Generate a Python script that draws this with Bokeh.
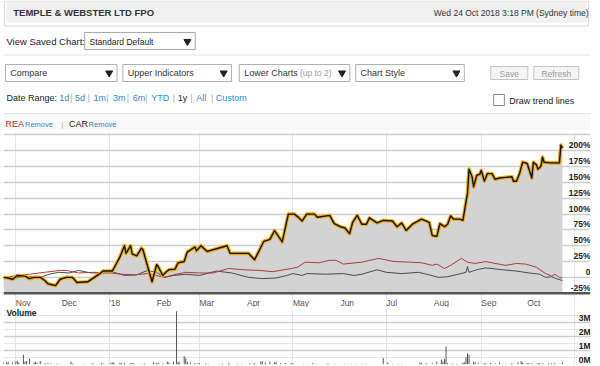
import pandas as pd
from datetime import datetime
from bokeh.plotting import figure
from bokeh.layouts import column
from bokeh.models import (ColumnDataSource, Range1d, FixedTicker, Grid, LabelSet, Label, Span)
from bokeh.core.properties import value
from bokeh.embed import file_html
from bokeh.resources import INLINE

FONT = "Liberation Sans"

# ---------------- data ----------------
tpw_dates = ["2017-10-24","2017-10-27","2017-10-30","2017-11-02","2017-11-07","2017-11-10","2017-11-13",
             "2017-11-17","2017-11-20","2017-11-22","2017-11-27","2017-11-30","2017-12-04","2017-12-08",
             "2017-12-11","2017-12-18","2017-12-26","2017-12-28","2018-01-03","2018-01-04","2018-01-08",
             "2018-01-11","2018-01-12","2018-01-15","2018-01-16","2018-01-19","2018-01-22","2018-01-23",
             "2018-01-29","2018-02-01","2018-02-02","2018-02-05","2018-02-07","2018-02-09","2018-02-13",
             "2018-02-15","2018-02-19","2018-02-21","2018-02-26","2018-02-27","2018-03-02","2018-03-06",
             "2018-03-19","2018-03-21","2018-04-02","2018-04-06","2018-04-12","2018-04-16","2018-04-19",
             "2018-04-24","2018-04-28","2018-05-02","2018-05-04","2018-05-07","2018-05-10","2018-05-15",
             "2018-05-17","2018-05-25","2018-05-28","2018-06-01","2018-06-04","2018-06-07","2018-06-09",
             "2018-06-12","2018-06-15","2018-06-18","2018-06-20","2018-06-25","2018-06-29","2018-07-05",
             "2018-07-08","2018-07-11","2018-07-14","2018-07-18","2018-07-24","2018-07-29","2018-07-31",
             "2018-08-03","2018-08-05","2018-08-08","2018-08-10","2018-08-12","2018-08-14","2018-08-18",
             "2018-08-20","2018-08-23","2018-08-24","2018-08-26","2018-08-27","2018-08-29","2018-08-31",
             "2018-09-01","2018-09-03","2018-09-05","2018-09-08","2018-09-10","2018-09-13","2018-09-17",
             "2018-09-21","2018-09-22","2018-09-24","2018-09-26","2018-09-28","2018-10-01","2018-10-04",
             "2018-10-05","2018-10-07","2018-10-08","2018-10-10","2018-10-11","2018-10-12","2018-10-16",
             "2018-10-22","2018-10-23","2018-10-24"]
tpw_pct = [0,-1,-3,3,2,-2,0,
           0,-5,-10,-13,-3,0,0,
           -8,-7,6,10,10,14,32,
           50,38,50,37,34,46,44,
           -7,20,17,3,8,12,13,
           23,25,40,48,42,50,41,
           50,38,38,28,57,60,74,
           56,100,100,96,89,100,100,
           95,98,85,80,78,69,87,
           98,84,84,94,86,90,89,
           80,86,74,84,92,87,66,
           65,85,80,84,97,92,92,
           90,133,171,159,143,161,163,
           169,152,164,164,155,157,158,
           159,152,152,164,182,180,157,
           182,178,171,176,190,182,181,
           181,209,204]

rea_dates = ["2017-10-24","2017-11-10","2017-11-20","2017-11-30","2017-12-04","2017-12-12","2017-12-22",
             "2018-01-02","2018-01-09","2018-01-18","2018-01-26","2018-02-01","2018-02-06","2018-02-12",
             "2018-02-20","2018-03-01","2018-03-10","2018-03-20","2018-03-30","2018-04-09","2018-04-18",
             "2018-04-25","2018-04-30","2018-05-04","2018-05-09","2018-05-18","2018-05-25","2018-05-29",
             "2018-06-03","2018-06-15","2018-06-26","2018-07-06","2018-07-17","2018-07-24","2018-07-31",
             "2018-08-03","2018-08-08","2018-08-12","2018-08-19","2018-08-23","2018-08-28","2018-09-04",
             "2018-09-10","2018-09-17","2018-09-24","2018-09-30","2018-10-07","2018-10-13","2018-10-17",
             "2018-10-19","2018-10-22","2018-10-24"]
rea_pct = [0,5,8,11,11,7,8,
           7,5,4,6,3,0,4,
           8,7,7,14,12,11,9,
           12,14,16,24,23,27,27,
           21,24,30,25,24,23,19,
           21,14,19,30,24,22,25,
           22,19,22,21,16,6,2,
           5,0,-1]

car_dates = ["2017-10-24","2017-10-30","2017-11-07","2017-11-17","2017-11-23","2017-11-29","2017-12-06",
             "2017-12-12","2017-12-20","2017-12-28","2018-01-04","2018-01-11","2018-01-19","2018-01-26",
             "2018-02-01","2018-02-06","2018-02-12","2018-02-20","2018-03-01","2018-03-12","2018-03-22",
             "2018-04-02","2018-04-11","2018-04-20","2018-04-27","2018-05-01","2018-05-07","2018-05-10",
             "2018-05-23","2018-06-03","2018-06-10","2018-06-15","2018-06-25","2018-07-01","2018-07-11",
             "2018-07-22","2018-07-29","2018-08-04","2018-08-10","2018-08-17","2018-08-22","2018-08-23",
             "2018-08-24","2018-08-29","2018-09-04","2018-09-15","2018-09-24","2018-10-02","2018-10-09",
             "2018-10-13","2018-10-17","2018-10-20","2018-10-24"]
car_pct = [0,-2,2,0,5,8,7,
           11,7,7,8,3,4,11,
           8,0,3,5,3,10,7,
           0,-2,-1,3,6,3,6,
           5,6,3,5,12,8,6,
           8,4,0,1,5,8,17,
           8,12,15,12,10,7,5,
           0,1,-2,-5]

vol_dates = ["2017-10-24","2017-10-26","2017-10-27","2017-10-30","2017-11-01","2017-11-02","2017-11-03",
             "2017-11-06","2017-11-07","2017-11-08","2017-11-10","2017-11-13","2017-11-14","2017-11-15",
             "2017-11-17","2017-11-20","2017-11-22","2017-11-24","2017-11-28","2017-11-30","2017-12-07",
             "2017-12-08","2017-12-15","2017-12-21","2017-12-22","2017-12-27","2017-12-28","2018-01-02",
             "2018-01-03","2018-01-04","2018-01-08","2018-01-09","2018-01-11","2018-01-15","2018-01-16",
             "2018-01-17","2018-01-22","2018-01-24","2018-01-30","2018-02-01","2018-02-02","2018-02-05",
             "2018-02-08","2018-02-09","2018-02-12","2018-02-14","2018-02-15","2018-02-16","2018-02-19",
             "2018-02-20","2018-02-21","2018-02-23","2018-02-26","2018-02-28","2018-03-01","2018-03-05",
             "2018-03-07","2018-03-16","2018-03-20","2018-03-21","2018-03-26","2018-03-29","2018-04-03",
             "2018-04-06","2018-04-10","2018-04-11","2018-04-13","2018-04-16","2018-04-19","2018-04-20",
             "2018-04-23","2018-04-26","2018-04-30","2018-05-01","2018-05-08","2018-05-10","2018-05-14",
             "2018-05-16","2018-05-23","2018-05-24","2018-05-29","2018-06-04","2018-06-06","2018-06-08",
             "2018-06-12","2018-06-15","2018-06-18","2018-06-29","2018-07-02","2018-07-05","2018-07-09",
             "2018-07-11","2018-07-23","2018-07-24","2018-07-27","2018-07-31","2018-08-03","2018-08-06",
             "2018-08-07","2018-08-08","2018-08-09","2018-08-10","2018-08-13","2018-08-16","2018-08-20",
             "2018-08-21","2018-08-22","2018-08-23","2018-08-24","2018-08-27","2018-08-28","2018-08-30",
             "2018-09-03","2018-09-04","2018-09-07","2018-09-10","2018-09-13","2018-09-17","2018-09-21",
             "2018-09-25","2018-09-27","2018-09-28","2018-10-01","2018-10-02","2018-10-04","2018-10-08",
             "2018-10-09","2018-10-11","2018-10-15","2018-10-17","2018-10-19","2018-10-24"]
vol_m = [0.20,0.15,0.20,0.15,0.20,0.25,0.15,
         0.70,0.20,0.25,0.40,0.15,0.20,0.10,
         0.25,0.08,0.10,0.08,0.08,0.05,0.20,
         0.08,0.05,0.10,0.05,0.10,0.07,0.10,
         0.15,0.15,0.12,0.10,0.10,0.10,0.10,
         0.08,0.05,0.08,0.15,0.10,0.10,0.08,
         0.20,0.15,0.20,3.80,0.20,0.15,0.60,
         0.45,0.20,0.15,0.10,0.10,0.08,0.08,
         0.05,0.08,0.10,0.05,0.08,0.05,0.08,
         0.10,0.20,0.25,0.15,0.20,0.15,0.20,
         0.10,0.12,0.10,0.08,0.05,0.05,0.10,
         0.05,0.05,0.08,0.05,0.05,0.05,0.05,
         0.05,0.05,0.05,0.45,0.15,0.05,0.05,
         0.05,0.15,0.10,0.10,0.10,0.20,0.35,
         0.20,0.40,1.30,0.10,0.08,0.05,0.15,
         0.15,0.52,0.80,0.70,0.20,0.15,0.10,
         0.10,0.08,0.10,0.08,0.15,0.05,0.10,
         0.15,0.25,0.15,0.10,0.10,0.08,0.10,
         0.10,0.08,0.10,0.08,0.10,0.15]

month_ticks = ["2017-11-01","2017-12-01","2018-01-01","2018-02-01","2018-03-01","2018-04-01",
               "2018-05-01","2018-06-01","2018-07-01","2018-08-01","2018-09-01","2018-10-01"]
month_labels = ["Nov","Dec","'18","Feb","Mar","Apr","May","Jun","Jul","Aug","Sep","Oct"]

pct_ticks = [200,175,150,125,100,75,50,25,0,-25]
pct_labels = ["200%","175%","150%","125%","100%","75%","50%","25%","0","-25%"]
pct_grid = [225,200,175,150,125,100,75,50,25,0]
pct_floor = -25

vol_ticks = [3,2,1,0]
vol_labels = ["3M","2M","1M","0M"]
vol_grid = [4,3,2,1,0]

x_start = datetime(2017, 10, 24)
x_end = datetime(2018, 11, 11, 8)

# ---------------- header (page chrome) ----------------
W = 600
hdr = figure(width=W, height=130, x_range=Range1d(0, 600), y_range=Range1d(130, 0),
             output_backend="svg", toolbar_location=None, min_border=0,
             x_axis_location=None, y_axis_location=None)
hdr.outline_line_color = None
hdr.xgrid.visible = False
hdr.ygrid.visible = False

boxes = dict(
    l=[1, 3, 83, 2, 122, 241, 360, 498, 542, 501, 0],
    r=[598, 596, 196, 116, 233, 354, 471, 536, 588, 512, 600],
    t=[0.5, 1.5, 32, 64, 64, 64, 64, 66, 66, 94, 113],
    b=[25.5, 22, 49, 81, 81, 81, 81, 79, 79, 105, 130],
    fill=["#ffffff", "#f0f0f0", "#ffffff", "#ffffff", "#ffffff", "#ffffff", "#ffffff",
          "#f4f4f4", "#f4f4f4", "#ffffff", "#f8f8f8"],
    line=["#d6d6d6", None, "#a8a8a8", "#b0b0b0", "#b0b0b0", "#b0b0b0", "#b0b0b0",
          "#c4c4c4", "#c4c4c4", "#8a8a8a", None],
)
hdr.quad(left="l", right="r", top="t", bottom="b", fill_color="fill", line_color="line",
         line_width=1, source=ColumnDataSource(boxes))
hdr.segment(x0=[0, 0], x1=[600, 600], y0=[54.5, 113], y1=[54.5, 113], line_color="#e2e2e2", line_width=1)

hdr.scatter(x=[188, 108, 225, 346, 463], y=[41, 72.5, 72.5, 72.5, 72.5], marker="inverted_triangle",
            size=7, fill_color="#222222", line_color="#222222")

items = [
    # x, y, text, colour, size, style, align
    (10, 12, "TEMPLE & WEBSTER LTD FPO", "#333333", "9.5px", "bold", "left"),
    (598, 12, "Wed 24 Oct 2018 3:18 PM (Sydney time)", "#333333", "8.5px", "normal", "right"),
    (3, 41, "View Saved Chart:", "#222222", "9.5px", "normal", "left"),
    (88, 41, "Standard Default", "#222222", "8.5px", "normal", "left"),
    (7, 72.5, "Compare", "#333333", "9px", "normal", "left"),
    (127, 72.5, "Upper Indicators", "#333333", "9px", "normal", "left"),
    (246, 72.5, "Lower Charts", "#333333", "9px", "normal", "left"),
    (303, 72.5, "(up to 2)", "#9a9a9a", "8.5px", "normal", "left"),
    (365, 72.5, "Chart Style", "#333333", "9px", "normal", "left"),
    (517, 73, "Save", "#9a9a9a", "8.5px", "normal", "center"),
    (565, 73, "Refresh", "#9a9a9a", "8.5px", "normal", "center"),
    (3, 97, "Date Range:", "#222222", "9px", "normal", "left"),
    (517, 100, "Draw trend lines", "#222222", "9px", "normal", "left"),
    (2, 123.5, "REA", "#b52a2a", "9px", "normal", "left"),
    (22, 123.5, "Remove", "#2a8ad4", "7.5px", "normal", "left"),
    (59, 123.5, "|", "#aaaaaa", "8px", "normal", "left"),
    (67, 123.5, "CAR", "#222222", "9px", "normal", "left"),
    (87, 123.5, "Remove", "#2a8ad4", "7.5px", "normal", "left"),
]
texts = dict(x=[i[0] for i in items], y=[i[1] for i in items], t=[i[2] for i in items],
             c=[i[3] for i in items], s=[i[4] for i in items], st=[i[5] for i in items],
             a=[i[6] for i in items])
hdr.text(x="x", y="y", text="t", text_color="c", text_font_size="s", text_font_style="st",
         text_align="a", text_baseline="middle", text_font=value(FONT), source=ColumnDataSource(texts))

dr = dict(
    x=[57, 68, 73, 86, 92, 105, 112, 126, 132, 145, 151, 173, 178, 191, 197, 212, 217],
    t=["1d", "|", "5d", "|", "1m", "|", "3m", "|", "6m", "|", "YTD", "|", "1y", "|", "All", "|", "Custom"],
    c=["#2a8ad4", "#b0b0b0", "#2a8ad4", "#b0b0b0", "#2a8ad4", "#b0b0b0", "#2a8ad4", "#b0b0b0",
       "#2a8ad4", "#b0b0b0", "#2a8ad4", "#b0b0b0", "#222222", "#b0b0b0", "#2a8ad4", "#b0b0b0", "#2a8ad4"],
)
hdr.text(x="x", y=97, text="t", text_color="c", text_font_size="9px", text_baseline="middle",
         text_font=value(FONT), source=ColumnDataSource(dr))

# ---------------- price chart ----------------
# frame runs from the top gridline area down to the bottom of the month labels;
# the -25% floor (axis line) sits 14px above the frame bottom
price = figure(width=W, height=177, x_axis_type="datetime",
               x_range=Range1d(x_start, x_end), y_range=Range1d(-47.6, 230.5),
               output_backend="svg", toolbar_location=None,
               x_axis_location=None, y_axis_location=None,
               min_border_left=3, min_border_right=10, min_border_top=1, min_border_bottom=0)
price.outline_line_color = None
price.add_layout(Grid(dimension=1, ticker=FixedTicker(ticks=pct_grid),
                      grid_line_color="#cdcdcd", grid_line_width=1.5))

src_tpw = ColumnDataSource(dict(x=pd.to_datetime(tpw_dates), y=tpw_pct))
price.varea(x="x", y1=pct_floor, y2="y", fill_color="#d3d3d3", source=src_tpw)

price.line(pd.to_datetime(car_dates), car_pct, line_color="#4a4a4a", line_width=1)
price.line(pd.to_datetime(rea_dates), rea_pct, line_color="#b03a3a", line_width=1)

price.line("x", "y", line_color="#f2a900", line_width=3.6, line_join="round", source=src_tpw)
price.line("x", "y", line_color="#111111", line_width=1.4, line_join="round", source=src_tpw)

# axis base line
price.add_layout(Span(location=pct_floor, dimension="width", line_color="#555555", line_width=2.5))

# month labels, left-aligned at each month start, under the axis line
src_ml = ColumnDataSource(dict(x=pd.to_datetime(month_ticks), t=month_labels))
price.add_layout(LabelSet(x="x", y=pct_floor, y_offset=-9.5, text="t", source=src_ml,
                          text_align="left", text_baseline="middle",
                          text_font=value(FONT), text_font_size="8.5px", text_color="#555555"))

src_pl = ColumnDataSource(dict(x=[587] * len(pct_ticks), y=pct_ticks, t=pct_labels))
price.add_layout(LabelSet(x="x", y="y", text="t", source=src_pl, x_units="screen",
                          text_align="right", text_baseline="middle", y_offset=5.5,
                          text_font=value(FONT), text_font_size="8.5px", text_font_style="bold",
                          text_color="#222222"))

# ---------------- volume ----------------
vol = figure(width=W, height=59, x_axis_type="datetime", x_range=price.x_range,
             y_range=Range1d(0, 4.0), output_backend="svg", toolbar_location=None,
             x_axis_location=None, y_axis_location=None,
             min_border_left=3, min_border_right=10, min_border_top=1, min_border_bottom=2)
vol.outline_line_color = None
vol.add_layout(Grid(dimension=1, ticker=FixedTicker(ticks=vol_grid),
                    grid_line_color="#cdcdcd", grid_line_width=1.5))
vx = pd.to_datetime(vol_dates)
vol.segment(x0=vx, x1=vx, y0=0, y1=vol_m, line_color="#555555", line_width=1)
src_vl = ColumnDataSource(dict(x=[587] * len(vol_ticks), y=vol_ticks, t=vol_labels))
vol.add_layout(LabelSet(x="x", y="y", text="t", source=src_vl, x_units="screen",
                        text_align="right", text_baseline="middle", y_offset=5,
                        text_font=value(FONT), text_font_size="8.5px", text_font_style="bold",
                        text_color="#222222"))
vol.add_layout(Label(x=3, y=52, x_units="screen", y_units="screen", text="Volume",
                     text_font=FONT, text_font_size="8.5px", text_font_style="bold",
                     text_color="#222222", text_baseline="middle"))

page = column(hdr, price, vol, spacing=0)
open("out.html", "w").write(file_html(page, INLINE))
